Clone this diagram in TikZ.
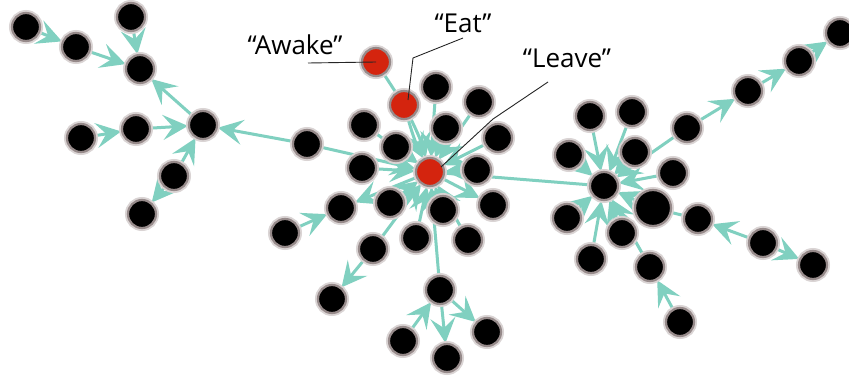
\documentclass[tikz,border=0pt]{standalone}
\usepackage{fontspec}
\setmainfont{Open Sans}
\usetikzlibrary{arrows.meta}
\pgfdeclarelayer{background}
\pgfdeclarelayer{canvas}
\pgfsetlayers{canvas,background,main}
\definecolor{edgeteal}{RGB}{128,208,192}
\definecolor{ringgray}{RGB}{150,138,138}
\definecolor{halogray}{RGB}{218,212,212}
\definecolor{nodered}{RGB}{212,36,14}
\begin{document}
\begin{tikzpicture}[x=1pt,y=-1pt,
  vert/.style={circle, minimum size=28pt, inner sep=0pt, fill=black,
    draw=ringgray, line width=2.2pt,
    preaction={draw=halogray, line width=6pt}},
  bigvert/.style={vert, minimum size=36pt},
  hot/.style={vert, fill=nodered},
  edge/.style={draw=edgeteal, line width=3pt,
    -{Stealth[length=25pt 0 0,width=25pt 0 0,inset=10pt 0 0]}},
  link/.style={draw=edgeteal, line width=3pt},
  lead/.style={draw=black!85, line width=0.9pt},
  tag/.style={font=\fontsize{26}{30}\selectfont, anchor=base, inner sep=0pt}]

\begin{pgfonlayer}{canvas}
  \fill[white] (0,0) rectangle (849,380);
\end{pgfonlayer}
\useasboundingbox (0,0) rectangle (849,380);

% ---- left branch ----
\node[vert] (a1) at (26,27) {};
\node[vert] (a2) at (76,47) {};
\node[vert] (a3) at (131,17) {};
\node[vert] (a4) at (140,69) {};
\node[vert] (a5) at (203,125) {};
\node[vert] (a6) at (136,129) {};
\node[vert] (a7) at (81,138) {};
\node[vert] (a8) at (174,176) {};
\node[vert] (a9) at (142,214) {};
\node[vert] (b1) at (307,144) {};

% ---- central hub ----
\node[hot] (awake) at (376,62) {};
\node[hot] (eat) at (404,105) {};
\node[hot] (leave) at (430,172) {};
\node[vert] (c1) at (436,87) {};
\node[vert] (c2) at (479,102) {};
\node[vert] (c3) at (364,125) {};
\node[vert] (c4) at (446,128) {};
\node[vert] (c5) at (498,138) {};
\node[vert] (c6) at (396,147) {};
\node[vert] (c7) at (362,168) {};
\node[vert] (c8) at (477,170) {};
\node[vert] (c9) at (390,203) {};
\node[vert] (c10) at (341,208) {};
\node[vert] (c11) at (443,210) {};
\node[vert] (c12) at (493,205) {};
\node[vert] (c13) at (416,238) {};
\node[vert] (c14) at (468,240) {};
\node[vert] (c15) at (373,249) {};
\node[vert] (c16) at (285,233) {};
\node[vert] (c17) at (332,299) {};
\node[vert] (c18) at (440,290) {};
\node[vert] (c19) at (403,341) {};
\node[vert] (c20) at (447,358) {};
\node[vert] (c21) at (487,332) {};

% ---- right hub ----
\node[vert] (h) at (604,186) {};
\node[vert] (r1) at (590,116) {};
\node[vert] (r2) at (632,112) {};
\node[vert] (r3) at (569,155) {};
\node[vert] (r4) at (635,152) {};
\node[vert] (r5) at (687,128) {};
\node[vert] (r6) at (673,173) {};
\node[bigvert] (r7) at (653,208) {};
\node[vert] (r8) at (567,218) {};
\node[vert] (r9) at (622,233) {};
\node[vert] (r10) at (591,259) {};
\node[vert] (r11) at (650,267) {};
\node[vert] (r12) at (698,219) {};
\node[vert] (r13) at (763,243) {};
\node[vert] (r14) at (813,265) {};
\node[vert] (r15) at (680,322) {};
\node[vert] (r16) at (748,91) {};
\node[vert] (r17) at (799,61) {};
\node[vert] (r18) at (840,33) {};

\begin{pgfonlayer}{background}
  % left branch
  \draw[edge] (a1) -- (a2);
  \draw[edge] (a2) -- (a4);
  \draw[edge] (a3) -- (a4);
  \draw[edge] (a5) -- (a4);
  \draw[edge] (a6) -- (a5);
  \draw[edge] (a7) -- (a6);
  \draw[edge] (a8) -- (a5);
  \draw[edge] (a8) -- (a9);
  \draw[edge] (b1) -- (a5);
  % central hub
  \draw[link] (awake) -- (eat);
  \draw[edge] (eat) to[bend left=5] (leave);
  \draw[edge] (eat) to[bend right=5] (leave);
  \foreach \n in {b1,c1,c2,c3,c4,c5,c6,c7,c8,c9,c11,c13,c14,c15,c18}
    \draw[edge] (\n) -- (leave);
  \draw[edge] (leave) -- (c10);
  \draw[edge] (leave) -- (c12);
  \draw[edge] (c16) -- (c10);
  \draw[edge] (c15) -- (c17);
  \draw[edge] (c19) -- (c18);
  \draw[edge] (c18) -- (c20);
  \draw[edge] (c18) -- (c21);
  \draw[link] (leave) -- (h);
  % right hub
  \foreach \n in {r1,r2,r3,r4,r5,r6,r7,r8,r9,r10,r11}
    \draw[edge] (\n) -- (h);
  \draw[link] (r12) -- (r7);
  \draw[edge] (r13) -- (r12);
  \draw[edge] (r13) -- (r14);
  \draw[edge] (r15) -- (r11);
  \draw[edge] (r5) -- (r16);
  \draw[edge] (r16) -- (r17);
  \draw[edge] (r17) -- (r18);
\end{pgfonlayer}

% ---- annotations ----
\node[tag] (tAwake) at (295,54) {“Awake”};
\node[tag] (tEat) at (463,32) {“Eat”};
\node[tag] (tLeave) at (567,67) {“Leave”};

\coordinate (awakeFrom) at (308,63);
\coordinate (eatFrom) at (463,38);
\coordinate (eatBend) at (413,58);
\coordinate (eatEnd) at (408,100);
\coordinate (leaveFrom) at (548,82);
\coordinate (leaveBend) at (493,119);
\coordinate (leaveEnd) at (441,167);

\draw[lead] (awakeFrom) -- (awake.center);
\draw[lead] (eatFrom) -- (eatBend) -- (eatEnd);
\draw[lead] (leaveFrom) -- (leaveBend) -- (leaveEnd);
\end{tikzpicture}
\end{document}
